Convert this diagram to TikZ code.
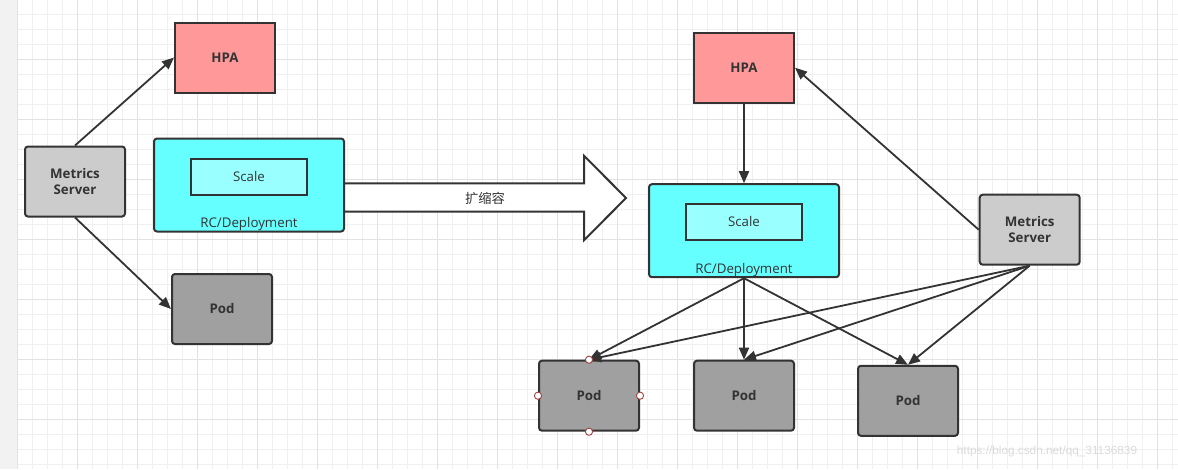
\documentclass[tikz,border=0pt]{standalone}
\usepackage{fontspec}
\setmainfont{Open Sans}
\newfontfamily\cjk{Noto Sans CJK SC}
\newfontfamily\wmfont{Liberation Sans}
\usetikzlibrary{arrows.meta}

\definecolor{hpared}{HTML}{FF9999}
\definecolor{deploycyan}{HTML}{66FFFF}
\definecolor{scalecyan}{HTML}{99FFFF}
\definecolor{msgray}{HTML}{CCCCCC}
\definecolor{podgray}{HTML}{A0A0A0}
\definecolor{linegray}{HTML}{333333}
\definecolor{minorgrid}{HTML}{F0F0F0}
\definecolor{majorgrid}{HTML}{E2E2E2}
\definecolor{stripgray}{HTML}{F2F2F2}
\definecolor{handlered}{HTML}{A04040}

\begin{document}
\begin{tikzpicture}[
    x=1pt, y=-1pt,
    box/.style={rectangle, draw=linegray, line width=2pt, minimum width=100pt, minimum height=70pt, inner sep=0pt, text=linegray, font=\bfseries\fontsize{13.3}{16}\selectfont},
    hpa/.style={box, fill=hpared},
    metrics/.style={box, fill=msgray, rounded corners=3pt, align=center},
    pod/.style={box, fill=podgray, rounded corners=3pt},
    deploy/.style={rectangle, draw=linegray, line width=2pt, fill=deploycyan, rounded corners=3pt, minimum width=190pt, minimum height=93pt, inner sep=0pt},
    scalebox/.style={rectangle, draw=linegray, line width=2pt, fill=scalecyan, minimum width=116pt, minimum height=36pt, inner sep=0pt, text=linegray, font=\fontsize{13.3}{16}\selectfont},
    deploytext/.style={text=linegray, inner sep=0pt, font=\fontsize{13.3}{16}\selectfont},
    conn/.style={draw=linegray, line width=1.8pt, -{Triangle[length=12pt, width=10pt]}},
    bigarrow/.style={draw=linegray, line width=2pt, fill=white, line join=miter},
    handle/.style={draw=handlered, fill=white, line width=0.9pt}
]
\useasboundingbox (0,0) rectangle (1178,469);

% Fond quadrille
\fill[white] (0,0) rectangle (1178,469);
\foreach \i in {0,...,77}
    \draw[minorgrid, line width=1pt] (17.7+15*\i,0) -- (17.7+15*\i,469);
\foreach \j in {1,...,31}
    \draw[minorgrid, line width=1pt] (17.7,-0.7+15*\j) -- (1178,-0.7+15*\j);
\foreach \i in {0,...,19}
    \draw[majorgrid, line width=1pt] (17.7+60*\i,0) -- (17.7+60*\i,469);
\foreach \j in {1,...,7}
    \draw[majorgrid, line width=1pt] (17.7,-0.7+60*\j) -- (1178,-0.7+60*\j);
\fill[stripgray] (0,0) rectangle (17.2,469);

% Avant : gauche
\node[hpa] (hpaleft) at (225,57.5) {HPA};
\node[metrics] (msleft) at (75,181.5) {Metrics\\Server};
\node[deploy] (rcleft) at (249,185) {};
\node[scalebox] (scaleleft) at ([yshift=8.5pt]rcleft.center) {Scale};
\node[deploytext] (rcleftlabel) at ([yshift=8pt]rcleft.south) {RC/Deployment};
\node[pod] (podleft) at (222,309) {Pod};

\draw[conn] (msleft.north) -- (hpaleft.west);
\draw[conn] (msleft.south) -- (podleft.west);

% Fleche de mise a l'echelle
\draw[bigarrow] (344,183.3) -- (584,183.3) -- (584,155.7) -- (626,198) -- (584,240.3) -- (584,211.7) -- (344,211.7) -- cycle;
\node[text=linegray, inner sep=0pt, font=\cjk\fontsize{13.3}{16}\selectfont] (scaling) at (485,198) {扩缩容};

% Apres : droite
\node[hpa] (hparight) at (744,67.7) {HPA};
\node[deploy] (rcright) at (744,230.7) {};
\node[scalebox] (scaleright) at ([yshift=9pt]rcright.center) {Scale};
\node[deploytext] (rcrightlabel) at ([yshift=8.3pt]rcright.south) {RC/Deployment};
\node[metrics] (msright) at (1029.7,229.7) {Metrics\\Server};
\node[pod] (pod1) at (589,395.7) {Pod};
\node[pod] (pod2) at (744,395.7) {Pod};
\node[pod] (pod3) at (908,400.8) {Pod};

\draw[conn] (hparight.south) -- (rcright.north);
\draw[conn] (msright.west) -- (hparight.east);
\foreach \p in {pod1, pod2, pod3} {
    \draw[conn] (rcright.south) -- (\p.north);
    \draw[conn] (msright.south) -- (\p.north);
}

% Poignees de selection
\foreach \a in {north, south, east, west}
    \draw[handle] (pod1.\a) circle (3.6pt);

% Filigrane
\node[text=black!14, inner sep=0pt, font=\wmfont\fontsize{11.8}{14}\selectfont] (watermark) at (1047,451) {https://blog.csdn.net/qq\_31136839};

\end{tikzpicture}
\end{document}
